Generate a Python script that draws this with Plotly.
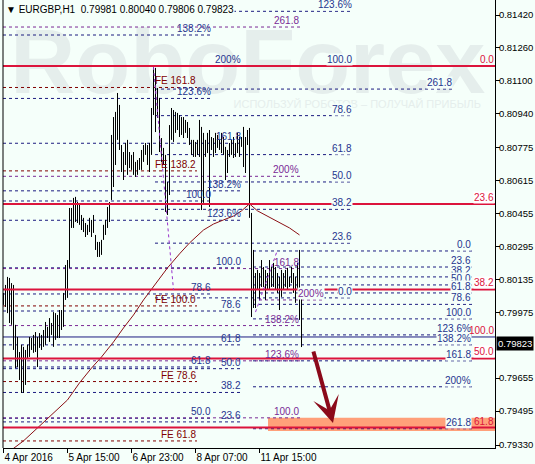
import plotly.graph_objects as go

# EURGBP H1 bars, 4-12 Apr 2016 (high / low)
high = [0.80069, 0.80108, 0.80147, 0.80142, 0.80117, 0.80108, 0.79914, 0.79855, 0.79782, 0.79817,
        0.79807, 0.79792, 0.79817, 0.79855, 0.79850, 0.79865, 0.79879, 0.79855, 0.79874, 0.79865,
        0.79889, 0.79928, 0.79904, 0.79947, 0.79923, 0.79976, 0.79971, 0.79962, 0.79986, 0.79986,
        0.80069, 0.80205, 0.80229, 0.80482, 0.80482, 0.80531, 0.80536, 0.80511, 0.80497, 0.80448,
        0.80434, 0.80409, 0.80400, 0.80434, 0.80424, 0.80448, 0.80351, 0.80317, 0.80317, 0.80327,
        0.80400, 0.80424, 0.80487, 0.80511, 0.80837, 0.80924, 0.80949, 0.81041, 0.80983, 0.80788,
        0.80754, 0.80798, 0.80813, 0.80754, 0.80740, 0.80754, 0.80706, 0.80715, 0.80725, 0.80764,
        0.80788, 0.80798, 0.80788, 0.80798, 0.80968, 0.81167, 0.81163, 0.81065, 0.81017, 0.80822,
        0.80774, 0.80740, 0.80608, 0.80885, 0.80968, 0.80958, 0.80949, 0.80944, 0.80934, 0.80924,
        0.80924, 0.80910, 0.80900, 0.80871, 0.80813, 0.80813, 0.80803, 0.80813, 0.80910, 0.80876,
        0.80847, 0.80813, 0.80847, 0.80861, 0.80827, 0.80822, 0.80847, 0.80837, 0.80813, 0.80847,
        0.80827, 0.80779, 0.80764, 0.80798, 0.80813, 0.80827, 0.80798, 0.80847, 0.80827, 0.80827,
        0.80876, 0.80827, 0.80861, 0.80871, 0.80458, 0.80278, 0.80166, 0.80181, 0.80166, 0.80229,
        0.80195, 0.80181, 0.80166, 0.80229, 0.80195, 0.80215, 0.80195, 0.80166, 0.80147, 0.80181,
        0.80166, 0.80181, 0.80191, 0.80147, 0.80195, 0.80166, 0.80147, 0.80215, 0.80278, 0.80040]
low = [0.80011, 0.80001, 0.79971, 0.79923, 0.79914, 0.79792, 0.79704, 0.79709, 0.79646, 0.79583,
       0.79583, 0.79622, 0.79753, 0.79758, 0.79792, 0.79778, 0.79782, 0.79709, 0.79802, 0.79792,
       0.79807, 0.79817, 0.79850, 0.79831, 0.79865, 0.79807, 0.79841, 0.79850, 0.79850, 0.79889,
       0.79904, 0.80035, 0.80045, 0.80191, 0.80385, 0.80385, 0.80414, 0.80409, 0.80400, 0.80375,
       0.80365, 0.80341, 0.80351, 0.80365, 0.80341, 0.80361, 0.80278, 0.80244, 0.80244, 0.80254,
       0.80327, 0.80351, 0.80385, 0.80414, 0.80521, 0.80584, 0.80691, 0.80813, 0.80764, 0.80657,
       0.80618, 0.80691, 0.80643, 0.80676, 0.80667, 0.80643, 0.80633, 0.80643, 0.80667, 0.80667,
       0.80706, 0.80740, 0.80691, 0.80657, 0.80740, 0.80934, 0.80851, 0.80920, 0.80754, 0.80706,
       0.80691, 0.80463, 0.80448, 0.80545, 0.80813, 0.80803, 0.80847, 0.80861, 0.80827, 0.80837,
       0.80822, 0.80847, 0.80822, 0.80788, 0.80740, 0.80730, 0.80730, 0.80740, 0.80730, 0.80472,
       0.80507, 0.80730, 0.80749, 0.80487, 0.80764, 0.80730, 0.80749, 0.80774, 0.80764, 0.80749,
       0.80740, 0.80618, 0.80652, 0.80730, 0.80740, 0.80725, 0.80730, 0.80749, 0.80730, 0.80779,
       0.80681, 0.80652, 0.80788, 0.80434, 0.79952, 0.79996, 0.79996, 0.80084, 0.80035, 0.80098,
       0.80098, 0.80035, 0.80084, 0.80084, 0.80098, 0.80098, 0.80084, 0.80069, 0.79986, 0.80050,
       0.80084, 0.80098, 0.80084, 0.80098, 0.80117, 0.80069, 0.80021, 0.80084, 0.79938, 0.79806]

date_ticks = [0, 32, 64, 96, 128]
date_labels = ["4 Apr 2016", "5 Apr 15:00", "6 Apr 23:00", "8 Apr 07:00", "11 Apr 15:00"]
price_ticks = [0.81420, 0.81260, 0.81100, 0.80940, 0.80775, 0.80615, 0.80455,
               0.80295, 0.80135, 0.79975, 0.79655, 0.79495, 0.79330]
last_bar = [0.79981, 0.80040, 0.79806, 0.79823]  # O H L C

# moving average, read at a few bars
ma_bars = [4, 10, 17, 25, 32, 38, 44, 49, 55, 60, 65, 70, 75, 82, 88, 93,
           100, 105, 110, 115, 119, 123, 127, 131, 137, 143, 148]
ma_values = [0.79306, 0.79350, 0.79413, 0.79486, 0.79549, 0.79632, 0.79704, 0.79758,
             0.79831, 0.79899, 0.79962, 0.80035, 0.80098, 0.80191, 0.80259, 0.80312,
             0.80375, 0.80404, 0.80424, 0.80443, 0.80468, 0.80502, 0.80468, 0.80448,
             0.80414, 0.80385, 0.80351]

NAVY = "#1c1c80"
NAVY_TXT = "#25358f"
PURPLE = "#7a2a96"
MAROON = "#800000"
CRIMSON = "#dc143c"
BG = "#f5fffa"
FONT = "Liberation Sans"

# fibo tools: price at 0 %, price at 100 %, levels, from bar, to bar
red_fibo = dict(p0=0.81172, p100=0.78329, levels=[0, 23.6, 38.2, 50, 61.8])
fibo_tools = [
    dict(p0=0.80045, p100=0.81172, levels=[0, 23.6, 38.2, 50, 61.8, 78.6, 100, 123.6],
         x0=75.75, x1=174.75, color=NAVY, text=NAVY_TXT, bg=True, prefix=""),
    dict(p0=0.80273, p100=0.79943, levels=[0, 23.6, 38.2, 50, 61.8, 78.6, 100, 123.6, 138.2, 161.8, 200, 261.8],
         x0=124.75, x1=234.25, color=NAVY, text=NAVY_TXT, bg=True, prefix=""),
    dict(p0=0.79211, p100=0.80191, levels=[23.6, 38.2, 50, 61.8, 78.6, 100, 123.6, 138.2, 161.8, 200],
         x0=-0.25, x1=119.25, color=NAVY, text=NAVY_TXT, bg=False, prefix=""),
    dict(p0=0.78404, p100=0.80516, levels=[50, 61.8, 78.6, 100, 123.6, 138.2],
         x0=-0.25, x1=104.25, color=NAVY, text=NAVY_TXT, bg=False, prefix=""),
    dict(p0=0.78288, p100=0.79462, levels=[100, 123.6, 138.2, 161.8, 200, 261.8],
         x0=-0.25, x1=148.25, color=PURPLE, text=PURPLE, bg=False, prefix=""),
    dict(p0=0.78288, p100=0.80006, levels=[61.8, 78.6, 100, 138.2, 161.8],
         x0=-0.25, x1=96.75, color=MAROON, text=MAROON, bg=False, prefix="FE "),
]
single_levels = [  # price, from bar, to bar, colour, label
    (0.81060, 75.75, 224.75, NAVY, "261.8"),
    (0.80035, 124.75, 160.75, PURPLE, "200%"),
]
trend_lines = [((75, 0.81167), (85, 0.80084)), ((126, 0.79976), (137, 0.80278))]
zone = (132.25, 0.79398, 0.79462)
hline_price = 0.79855


def level_text(v, prefix):
    if prefix:
        return prefix + f"{v:.1f}"
    if v in (123.6, 138.2, 200, 300):
        return f"{v:g}%"
    return f"{v:.1f}"


fig = go.Figure()

fig.add_trace(go.Scatter(x=ma_bars, y=ma_values, mode="lines",
                         line=dict(color="#8b0f14", width=1), hoverinfo="skip"))

bx, by = [], []
for i, (h, l) in enumerate(zip(high, low)):
    bx += [i, i, None]
    by += [l, h, None]
fig.add_trace(go.Scatter(x=bx, y=by, mode="lines", line=dict(color="black", width=1),
                         hoverinfo="skip"))

shapes = []
ann = []

# watermark
shapes.append(dict(type="rect", xref="paper", yref="paper", x0=0.02, x1=0.975, y0=0.79, y1=0.975,
                   line=dict(width=0), fillcolor="rgba(0,0,0,0)", layer="below",
                   label=dict(text="<b>RoboForex</b>", font=dict(size=90, color="#e5eeec", family=FONT),
                              textposition="middle center")))
shapes.append(dict(type="rect", xref="paper", yref="paper", x0=0.46, x1=0.98, y0=0.755, y1=0.785,
                   line=dict(width=0), fillcolor="rgba(0,0,0,0)", layer="below",
                   label=dict(text="ИСПОЛЬЗУЙ РОБОТОВ – ПОЛУЧАЙ ПРИБЫЛЬ",
                              font=dict(size=11, color="#e5eeec", family=FONT),
                              textposition="middle center")))

# target zone
shapes.append(dict(type="rect", xref="x", yref="y", x0=zone[0], x1=245.75, y0=zone[1], y1=zone[2],
                   fillcolor="#ffa07a", line=dict(width=0), layer="below"))

for t in fibo_tools:
    for v in t["levels"]:
        p = t["p0"] + (t["p100"] - t["p0"]) * v / 100
        shapes.append(dict(type="line", xref="x", yref="y", x0=t["x0"], x1=t["x1"], y0=p, y1=p,
                           line=dict(color=t["color"], width=1, dash="3px,3px"), layer="below"))
        ann.append(dict(x=t["x1"], y=p, xref="x", yref="y", xanchor="right", yanchor="bottom",
                        text=level_text(v, t["prefix"]), showarrow=False, borderpad=0,
                        bgcolor=BG if t["bg"] else None,
                        font=dict(size=10, color=t["text"], family=FONT)))

for p, x0, x1, c, lab in single_levels:
    shapes.append(dict(type="line", xref="x", yref="y", x0=x0, x1=x1, y0=p, y1=p,
                       line=dict(color=c, width=1, dash="3px,3px"), layer="below"))
    ann.append(dict(x=x1, y=p, xref="x", yref="y", xanchor="right", yanchor="bottom", text=lab,
                    showarrow=False, borderpad=0, bgcolor=BG,
                    font=dict(size=10, color=NAVY_TXT if c == NAVY else c, family=FONT)))

shapes.append(dict(type="line", xref="paper", yref="y", x0=0, x1=1, y0=hline_price, y1=hline_price,
                   line=dict(color=NAVY, width=1), layer="below"))
ann.append(dict(x=1, y=hline_price, xref="paper", yref="y", xanchor="right", yanchor="bottom",
                text="100.0", showarrow=False, borderpad=0,
                font=dict(size=10, color=CRIMSON, family=FONT)))

for v in red_fibo["levels"]:
    p = red_fibo["p0"] + (red_fibo["p100"] - red_fibo["p0"]) * v / 100
    shapes.append(dict(type="line", xref="paper", yref="y", x0=0, x1=1, y0=p, y1=p,
                       line=dict(color=CRIMSON, width=2), layer="above"))
    bg = None if v in (0, 61.8) else "white"
    ann.append(dict(x=1, y=p, xref="paper", yref="y", xanchor="right", yanchor="bottom",
                    text=f"{v:.1f}", showarrow=False, borderpad=0, bgcolor=bg,
                    font=dict(size=10, color=CRIMSON, family=FONT)))

for (xa, ya), (xb, yb) in trend_lines:
    shapes.append(dict(type="line", xref="x", yref="y", x0=xa, y0=ya, x1=xb, y1=yb,
                       line=dict(color="#9932cc", width=1, dash="dot")))

# left border
shapes.append(dict(type="line", xref="paper", yref="paper", x0=0, x1=0, y0=0, y1=1,
                   line=dict(color="black", width=1)))

# forecast arrow
ann.append(dict(x=164.75, y=0.79437, ax=154.75, ay=0.79792, xref="x", yref="y", axref="x", ayref="y",
                text="", showarrow=True, arrowhead=3, arrowsize=1.1, arrowwidth=4,
                arrowcolor="#8b0a1a"))

# title
ann.append(dict(x=0, y=1, xref="paper", yref="paper", xanchor="left", yanchor="top", xshift=2, yshift=-3,
                text="▼ EURGBP,H1  " + " ".join(f"{v:.5f}" for v in last_bar),
                showarrow=False, borderpad=0, bgcolor=BG,
                font=dict(size=10, color="black", family=FONT)))

# last price box
ann.append(dict(x=1, y=last_bar[3], xref="paper", yref="y", xanchor="left", yanchor="middle", xshift=1,
                text=f"{last_bar[3]:.5f}", showarrow=False, bgcolor="black", borderpad=1,
                font=dict(size=9.5, color="white", family=FONT)))

fig.update_layout(
    width=535, height=464,
    margin=dict(l=3, r=40, t=0, b=16, autoexpand=False),
    paper_bgcolor=BG, plot_bgcolor=BG,
    showlegend=False,
    shapes=shapes, annotations=ann,
    xaxis=dict(range=[-0.25, 245.75], showgrid=False, zeroline=False, automargin=False,
               tickvals=date_ticks, ticktext=date_labels, ticks="outside", ticklen=4,
               tickcolor="black", ticklabelposition="outside right",
               showline=True, linecolor="black", linewidth=1,
               tickfont=dict(size=10, color="black", family=FONT)),
    yaxis=dict(range=[0.793154, 0.814929], side="right", showgrid=False, zeroline=False,
               automargin=False, ticklabelstandoff=-3,
               tickvals=price_ticks, ticktext=[f"{v:.5f}" for v in price_ticks],
               ticks="outside", ticklen=4, tickcolor="black",
               showline=True, linecolor="black", linewidth=1,
               tickfont=dict(size=9.5, color="black", family=FONT)),
)

fig.write_html("out.html", config={"displayModeBar": False},
               post_script="document.body.style.margin='0px';")
